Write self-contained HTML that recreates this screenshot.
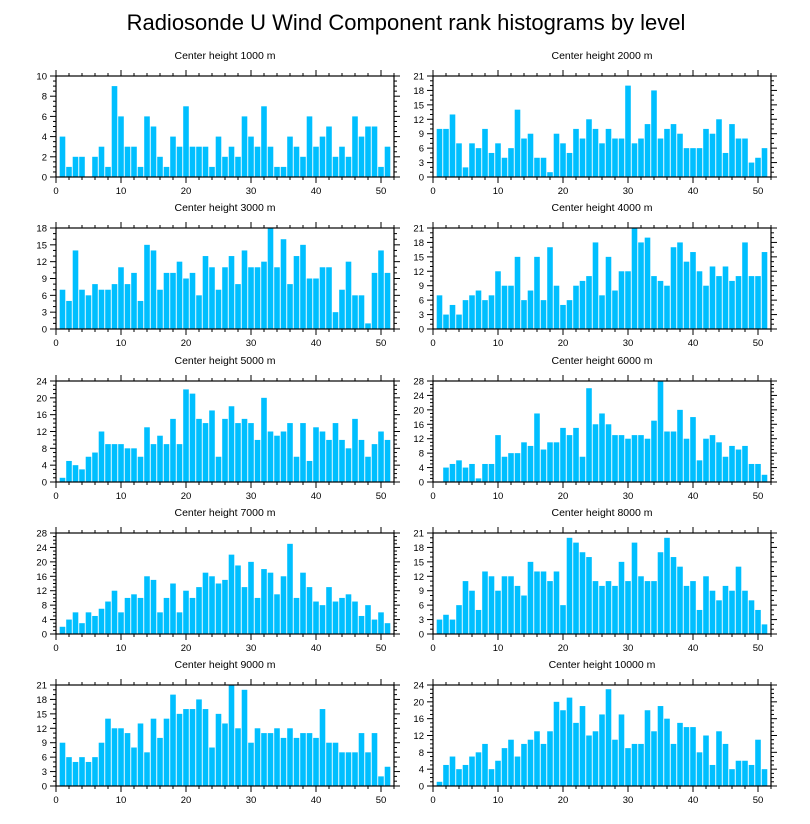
<!DOCTYPE html>
<html><head><meta charset="utf-8">
<style>
html,body{margin:0;padding:0;background:#fff;}
svg{display:block;font-family:"Liberation Sans",sans-serif;}
</style></head>
<body>
<svg id="c" width="810" height="824" viewBox="0 0 810 824">
<text x="406" y="30" text-anchor="middle" font-size="22" fill="#000">Radiosonde U Wind Component rank histograms by level</text>
</svg>
<script>
const levels = ["1000","2000","3000","4000","5000","6000","7000","8000","9000","10000"];
const yMax = [10,21,18,21,24,28,28,21,21,24];
const yStep = [2,3,3,3,4,4,4,3,3,4];
const xTicks = [0,10,20,30,40,50];
const h1000 = [4,1,2,2,0,2,3,1,9,6,3,3,1,6,5,2,1,4,3,7,3,3,3,1,4,2,3,2,6,4,3,7,3,1,1,4,3,2,6,3,4,5,2,3,2,6,4,5,5,1,3];
const h2000 = [10,10,13,7,2,7,6,10,5,7,4,6,14,8,9,4,4,1,9,7,5,10,8,12,10,7,10,8,8,19,7,8,11,18,8,10,11,9,6,6,6,10,9,12,5,11,8,8,3,4,6];
const h3000 = [7,5,14,7,6,8,7,7,8,11,8,10,5,15,14,7,10,10,12,9,10,6,13,11,7,11,13,8,14,11,11,12,18,11,16,8,13,15,9,9,11,11,3,7,12,6,6,1,10,14,10];
const h4000 = [7,3,5,3,6,7,8,6,7,12,9,9,15,6,8,15,6,17,9,5,6,9,10,11,18,7,15,8,12,12,21,18,19,11,10,9,17,18,14,16,12,9,13,11,13,10,11,18,11,11,16];
const h5000 = [1,5,4,3,6,7,12,9,9,9,8,8,6,13,9,11,9,15,9,22,21,15,14,17,6,15,18,14,15,14,10,20,12,11,12,14,6,14,5,13,12,10,14,10,8,15,10,6,9,12,10];
const h6000 = [0,4,5,6,4,5,1,5,5,13,7,8,8,11,10,19,9,11,11,15,13,15,7,26,16,19,16,13,13,12,13,13,12,17,28,14,14,20,12,18,6,12,13,11,7,10,9,10,5,5,2];
const h7000 = [2,4,6,3,6,5,7,9,12,6,10,11,10,16,15,6,10,14,6,12,10,13,17,16,14,15,22,19,13,20,10,18,17,11,16,25,10,17,13,9,8,13,9,10,11,9,5,8,4,6,3];
const h8000 = [3,4,3,6,11,9,5,13,12,9,12,12,10,8,15,13,13,11,13,6,20,19,17,16,11,10,11,10,15,11,19,12,11,11,17,20,16,14,10,11,5,12,9,7,10,9,14,9,7,5,2];
const h9000 = [9,6,5,6,5,6,9,14,12,12,11,8,13,7,14,10,14,19,15,16,16,18,16,8,15,13,21,12,20,9,12,11,11,12,10,12,10,11,11,10,16,9,9,7,7,7,11,7,11,2,4];
const h10000 = [1,5,7,4,5,7,8,10,4,6,9,11,7,10,11,13,10,13,20,18,21,15,19,12,13,17,23,11,17,9,10,10,18,13,19,16,10,15,14,14,8,12,5,13,10,4,6,6,5,11,4];
const series = [h1000,h2000,h3000,h4000,h5000,h6000,h7000,h8000,h9000,h10000];

const NS = "http://www.w3.org/2000/svg";
const svg = document.getElementById("c");
function mk(tag, attrs, parent){
  const e = document.createElementNS(NS, tag);
  for (const k in attrs) e.setAttribute(k, attrs[k]);
  parent.appendChild(e);
  return e;
}
const colX = [56, 433];
const rowTop = [76, 228, 381, 533, 685];
const W = 338, H = 101, XMAX = 52;

series.forEach((vals, p) => {
  const L = colX[p % 2], T = rowTop[Math.floor(p / 2)], B = T + H;
  const xs = v => L + v / XMAX * W;
  const ys = v => B - v / yMax[p] * H;
  const g = mk("g", {}, svg);
  
  
  const t = mk("text", {x: L + W / 2, y: T - 17, "text-anchor": "middle", "font-size": "10.5"}, g);
  t.textContent = "Center height " + levels[p] + " m";
  
  
  vals.forEach((v, i) => {
    const x = i + 1;
    const r = mk("rect", {x: xs(x - 0.43), y: ys(v), width: xs(0.86) - L, height: B - ys(v), fill: "#00bfff"}, g);
    
    
  });
  mk("rect", {x: L, y: T, width: W, height: H, fill: "none", stroke: "#000", "stroke-width": "1.2"}, g);
  for (let v = 0; v <= 52; v += 2) {
    const major = v % 10 === 0, len = major ? 6 : 3;
    mk("line", {x1: xs(v), x2: xs(v), y1: B, y2: B + len, stroke: "#000", "stroke-width": 1}, g);
    mk("line", {x1: xs(v), x2: xs(v), y1: T, y2: T - len, stroke: "#000", "stroke-width": 1}, g);
  }
  xTicks.forEach(v => {
    const tl = mk("text", {x: xs(v), y: B + 17, "text-anchor": "middle", "font-size": "9.5"}, g);
    tl.textContent = v;
    
    
  });
  const minor = yStep[p] / (yStep[p] === 3 ? 3 : 4);
  for (let v = 0; v <= yMax[p] + 1e-6; v += minor) {
    const major = Math.abs(v / yStep[p] - Math.round(v / yStep[p])) < 1e-6, len = major ? 6 : 3;
    mk("line", {x1: L, x2: L - len, y1: ys(v), y2: ys(v), stroke: "#000", "stroke-width": 1}, g);
    mk("line", {x1: L + W, x2: L + W + len, y1: ys(v), y2: ys(v), stroke: "#000", "stroke-width": 1}, g);
  }
  for (let v = 0; v <= yMax[p]; v += yStep[p]) {
    const yl = mk("text", {x: L - 9, y: ys(v) + 3.5, "text-anchor": "end", "font-size": "9.5"}, g);
    yl.textContent = v;
    
    
  }
});
</script>
</body></html>
